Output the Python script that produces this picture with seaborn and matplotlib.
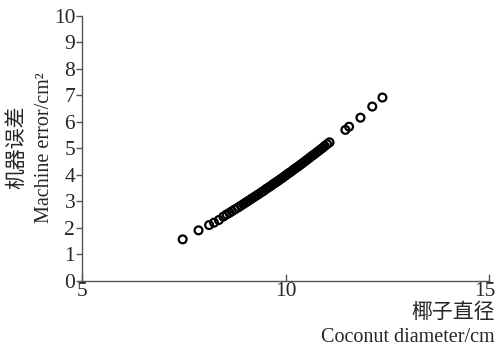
import matplotlib
matplotlib.use("Agg")
import matplotlib.pyplot as plt
import matplotlib.transforms as mtransforms
import seaborn as sns
import pandas as pd

# Coconut diameter (cm)
diameter = [7.47, 7.86, 8.12, 8.24, 8.36, 8.47,
            8.55, 8.62, 8.68, 8.75, 8.83, 8.90, 8.96, 9.02, 9.08, 9.15,
            9.21, 9.27, 9.33, 9.40, 9.46, 9.52, 9.58, 9.64, 9.70, 9.76,
            9.82, 9.88, 9.94, 10.00, 10.06, 10.12, 10.18, 10.24, 10.30, 10.36,
            10.42, 10.48, 10.54, 10.60, 10.66, 10.72, 10.78, 10.84, 10.90, 10.96,
            11.02, 11.08,
            11.47, 11.56, 11.84, 12.13, 12.38]
# Machine error (cm^2)
error = [1.56, 1.90, 2.10, 2.19, 2.29, 2.42,
         2.50, 2.56, 2.62, 2.69, 2.76, 2.83, 2.89, 2.95, 3.01, 3.08,
         3.14, 3.20, 3.26, 3.33, 3.39, 3.46, 3.52, 3.58, 3.65, 3.71,
         3.77, 3.84, 3.90, 3.97, 4.04, 4.10, 4.17, 4.24, 4.30, 4.37,
         4.44, 4.51, 4.58, 4.65, 4.72, 4.79, 4.86, 4.93, 5.00, 5.08,
         5.15, 5.22,
         5.69, 5.81, 6.15, 6.57, 6.91]

x_ticks = [5, 10, 15]
y_ticks = [0, 1, 2, 3, 4, 5, 6, 7, 8, 9, 10]

sns.set_style("white")
fam = ["Liberation Serif", "Noto Sans CJK SC", "DejaVu Sans"]
plt.rcParams["font.family"] = fam

df = pd.DataFrame({"d": diameter, "e": error})

fig = plt.figure(figsize=(4.98, 3.47), dpi=100)
ax = fig.add_axes([0.165, 0.191, 0.817, 0.764])
sns.scatterplot(data=df, x="d", y="e", ax=ax, marker="o", s=32,
                facecolor="none", edgecolor="black", linewidth=1.6, legend=False)

ax.set_xlim(5, 15)
ax.set_ylim(0, 10)
ax.set_xticks(x_ticks)
ax.set_yticks(y_ticks)
ax.set_xlabel("")
ax.set_ylabel("")
for s in ["top", "right"]:
    ax.spines[s].set_visible(False)
for s in ["left", "bottom"]:
    ax.spines[s].set_color("#555555")
    ax.spines[s].set_linewidth(1.0)
ax.tick_params(axis="y", direction="out", length=4, width=1, color="#555555",
               labelsize=15.5, pad=1, left=True)
ax.tick_params(axis="x", direction="in", length=5, width=1, color="#555555",
               labelsize=15.5, pad=1, bottom=True)
for lab in ax.get_xticklabels() + ax.get_yticklabels():
    lab.set_family(fam)

# nudge the last x tick label so it stays inside the figure
last = ax.get_xticklabels()[-1]
last.set_horizontalalignment("right")
last.set_transform(last.get_transform() +
                   mtransforms.ScaledTranslation(0.07, 0, fig.dpi_scale_trans))

fig.text(0.994, 0.098, "椰子直径", ha="right", va="center", fontsize=15, family=fam)
fig.text(0.994, 0.026, "Coconut diameter/cm", ha="right", va="center", fontsize=14.5, family=fam)
fig.text(0.036, 0.575, "机器误差", ha="center", va="center", rotation=90, fontsize=15, family=fam)
fig.text(0.09, 0.575, "Machine error/cm²", ha="center", va="center", rotation=90, fontsize=14.5, family=fam)

fig.savefig("out.png", dpi=100)
